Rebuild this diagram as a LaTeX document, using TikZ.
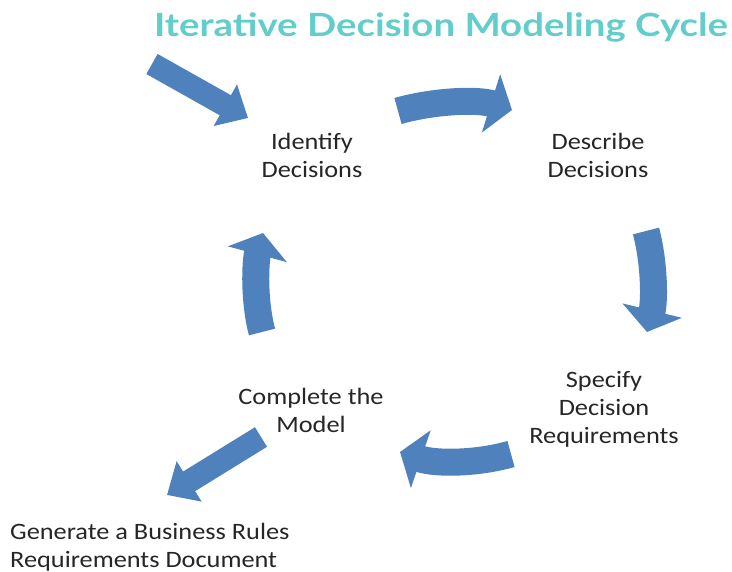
\documentclass[tikz,border=0pt]{standalone}
\usepackage{fontspec}
\setmainfont{Carlito}[FakeStretch=1.12]
\newfontfamily\titlefont{Lato}[FakeStretch=1.2]
\usepackage{xcolor}
\usepackage{tikz}
\usetikzlibrary{arrows.meta}
\definecolor{cycleblue}{RGB}{79,129,189}
\definecolor{titleteal}{RGB}{99,205,204}
\tikzset{
  steplabel/.style={align=center,inner sep=0pt,text=black!85,font=\fontsize{23.5}{28}\selectfont},
  cyclearrow/.style={draw=cycleblue,line width=27pt,-{Triangle[length=22pt,width=60pt]}},
  straightarrow/.style={draw=cycleblue,line width=23pt,-{Triangle[length=26pt,width=46pt]}}
}

\begin{document}
\begin{tikzpicture}[x=1pt,y=-1pt]
\useasboundingbox (0,0) rectangle (732,572);
\node[text=titleteal,inner sep=0pt,font=\titlefont\bfseries\fontsize{32}{32}\selectfont] (title) at (441,27) {Iterative Decision Modeling Cycle};
\node[steplabel] (identify) at (312,155) {Identify\\Decisions};
\node[steplabel] (describe) at (598,155) {Describe\\Decisions};
\node[steplabel] (specify) at (604,409) {Specify\\Decision\\Requirements};
\node[steplabel] (complete) at (311,410) {Complete the\\Model};
\node[steplabel,align=left,anchor=west] (generate) at (10,547) {Generate a Business Rules\\Requirements Document};
% arrow ends
\coordinate (in0) at (152,64);
\coordinate (in1) at (248,118);
\coordinate (id0) at (398,111);
\coordinate (id1) at (512,110);
\coordinate (de0) at (646,231);
\coordinate (de1) at (647,332);
\coordinate (sp0) at (511,454);
\coordinate (sp1) at (400,452);
\coordinate (co0) at (262,332);
\coordinate (co1) at (263,233);
\coordinate (out0) at (261,437);
\coordinate (out1) at (167,495);
\draw[straightarrow] (in0) -- (in1);
\draw[cyclearrow] (id0) .. controls (433,101) and (477,99) .. (id1);
\draw[cyclearrow] (de0) .. controls (654,261) and (655,299) .. (de1);
\draw[cyclearrow] (sp0) .. controls (476,464) and (435,464) .. (sp1);
\draw[cyclearrow] (co0) .. controls (254,302) and (255,263) .. (co1);
\draw[straightarrow] (out0) -- (out1);
\end{tikzpicture}
\end{document}
